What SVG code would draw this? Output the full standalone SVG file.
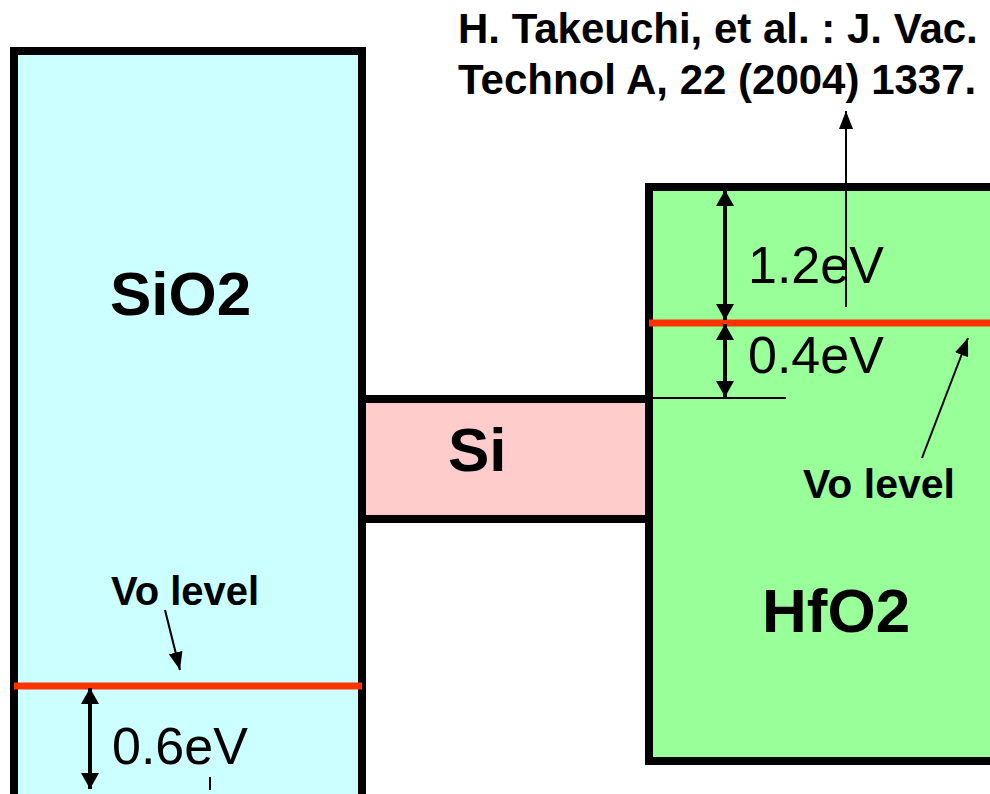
<svg xmlns="http://www.w3.org/2000/svg" width="990" height="794" viewBox="0 0 990 794">
<defs>
<style>
.box{stroke:#000;stroke-width:8}
.red{stroke:#FF3300;stroke-width:7}
.dim{stroke:#000;stroke-width:4;fill:none}
.thin{stroke:#000;stroke-width:2;fill:none}
.lbl{font-family:"Liberation Sans",Arial,sans-serif;font-weight:bold;fill:#000}
.val{font-family:"Liberation Sans",Arial,sans-serif;fill:#000;font-size:52px}
</style>
<marker id="dh" markerUnits="userSpaceOnUse" markerWidth="18" markerHeight="18" viewBox="0 0 16 18" refX="16" refY="9" orient="auto-start-reverse">
<path d="M0,0 L16,9 L0,18 Z" fill="#000"/>
</marker>
<marker id="th" markerUnits="userSpaceOnUse" markerWidth="18" markerHeight="14" viewBox="0 0 18 14" refX="18" refY="7" orient="auto">
<path d="M0,0 L18,7 L0,14 Z" fill="#000"/>
</marker>
</defs>
<rect width="990" height="794" fill="#fff"/>
<g id="sio2">
<rect class="box" x="14" y="51" width="348" height="748" fill="#CCFFFF"/>
<text class="lbl" x="110" y="315" font-size="62">SiO2</text>
</g>
<g id="si">
<rect class="box" x="362" y="399" width="287" height="120" fill="#FFCCCC"/>
<text class="lbl" x="448" y="471" font-size="62">Si</text>
</g>
<g id="hfo2">
<rect class="box" x="649" y="187" width="360" height="574" fill="#99FF99"/>
<text class="lbl" x="762" y="632" font-size="62">HfO2</text>
</g>
<g id="reference">
<text class="lbl" x="458" y="43" font-size="42">H. Takeuchi, et al. : J. Vac.</text>
<text class="lbl" x="458" y="94" font-size="42">Technol A, 22 (2004) 1337.</text>
</g>
<g id="vo-sio2">
<line class="red" x1="14" y1="686" x2="362" y2="686"/>
<text class="lbl" x="111" y="605" font-size="40">Vo level</text>
</g>
<g id="vo-hfo2">
<line class="red" x1="649" y1="323" x2="990" y2="323"/>
<text class="lbl" x="803" y="498" font-size="41">Vo level</text>
</g>
<g id="values">
<text class="val" x="748" y="283">1.2eV</text>
<text class="val" x="748" y="373">0.4eV</text>
<text class="val" x="112" y="764">0.6eV</text>
</g>
<g id="connectors">
<line class="dim" x1="725" y1="190" x2="725" y2="320" marker-start="url(#dh)" marker-end="url(#dh)"/>
<line class="dim" x1="725" y1="324" x2="725" y2="397" marker-start="url(#dh)" marker-end="url(#dh)"/>
<line class="thin" x1="653" y1="398" x2="786" y2="398"/>
<line class="thin" x1="846" y1="307" x2="846" y2="111" marker-end="url(#th)"/>
<line class="thin" x1="922" y1="458" x2="968" y2="338" marker-end="url(#th)"/>
<line class="thin" x1="165" y1="610" x2="180" y2="670" marker-end="url(#th)"/>
<line class="dim" x1="90" y1="688" x2="90" y2="789" marker-start="url(#dh)" marker-end="url(#dh)"/>
<line class="thin" x1="210" y1="777" x2="210" y2="790"/>
</g>
</svg>
